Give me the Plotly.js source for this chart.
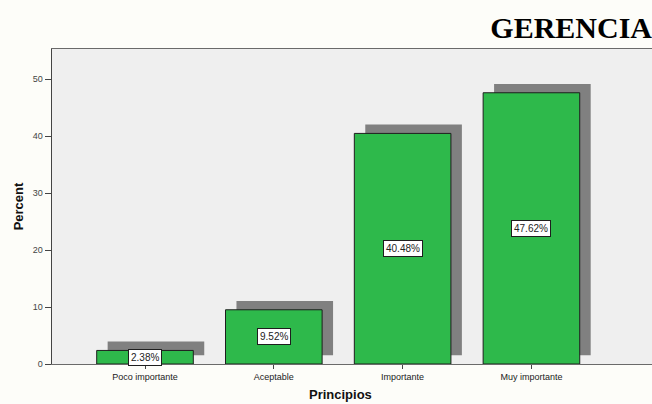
<!DOCTYPE html>
<html>
<head>
<meta charset="utf-8">
<script src="https://cdn.plot.ly/plotly-3.0.1.min.js"></script>
<style>
  html, body { margin: 0; padding: 0; background: #fdfdf9; }
  #chart { width: 652px; height: 404px; }
</style>
</head>
<body>
<div id="chart"></div>
<script>
// Principios — percent of answers per category
const categories = ['Poco importante', 'Aceptable', 'Importante', 'Muy importante'];
const percents = [2.38, 9.52, 40.48, 47.62];
const yTicks = [0, 10, 20, 30, 40, 50];

const barWidth = 0.75;
const shadowShiftX = 0.085;   // drop shadow shift along the category axis
const shadowShiftY = 1.55;    // drop shadow lift in percent units

const green = 'rgb(46,185,75)';

const shadow = {
  type: 'bar',
  x: categories,
  y: percents,
  base: percents.map(() => shadowShiftY),
  width: barWidth,
  offset: -barWidth / 2 + shadowShiftX,
  marker: { color: 'rgb(128,128,128)', line: { width: 0 } },
  hoverinfo: 'skip',
  showlegend: false
};

const bars = {
  type: 'bar',
  x: categories,
  y: percents,
  width: barWidth,
  marker: { color: green, line: { color: '#1e1e1e', width: 1 } },
  showlegend: false
};

const valueLabels = categories.map((c, i) => ({
  x: c,
  y: percents[i] / 2,
  xref: 'x',
  yref: 'y',
  text: percents[i].toFixed(2) + '%',
  showarrow: false,
  bgcolor: '#ffffff',
  bordercolor: '#1e1e1e',
  borderwidth: 1,
  borderpad: 2,
  font: { family: 'Liberation Sans, Arial, sans-serif', size: 10, color: '#222' }
}));

const axisTitle = {
  xref: 'paper',
  yref: 'paper',
  x: 0.48,
  y: -0.127,
  yanchor: 'bottom',
  text: '<b>Principios</b>',
  showarrow: false,
  font: { family: 'Liberation Sans, Arial, sans-serif', size: 13, color: '#111' }
};

const layout = {
  width: 652,
  height: 404,
  margin: { l: 52, r: 0, t: 49, b: 40 },
  paper_bgcolor: '#fdfdf9',
  plot_bgcolor: '#efefef',
  barmode: 'overlay',
  title: {
    text: '<b>GERENCIA</b>',
    font: { family: 'Liberation Serif, Times New Roman, serif', size: 30, color: '#000' },
    xref: 'paper',
    x: 1,
    xanchor: 'right',
    yref: 'container',
    y: 1 - 27 / 404,
    yanchor: 'middle'
  },
  xaxis: {
    type: 'category',
    range: [-0.722, 3.936],
    showgrid: false,
    zeroline: false,
    showline: true,
    mirror: true,
    linecolor: '#6a6a6a',
    linewidth: 1,
    ticks: 'outside',
    ticklen: 4,
    tickcolor: '#444',
    tickfont: { family: 'Liberation Sans, Arial, sans-serif', size: 9, color: '#222' },
    fixedrange: true
  },
  yaxis: {
    range: [0, 55.3],
    tickvals: yTicks,
    showgrid: false,
    zeroline: false,
    showline: true,
    linecolor: '#444',
    linewidth: 1.5,
    ticks: 'outside',
    ticklen: 6,
    tickcolor: '#444',
    tickfont: { family: 'Liberation Sans, Arial, sans-serif', size: 9, color: '#444' },
    title: {
      text: '<b>Percent</b>',
      font: { family: 'Liberation Sans, Arial, sans-serif', size: 13, color: '#111' },
      standoff: 6
    },
    fixedrange: true
  },
  annotations: valueLabels.concat([axisTitle])
};

Plotly.newPlot('chart', [shadow, bars], layout, { staticPlot: true, displayModeBar: false });
</script>
</body>
</html>
